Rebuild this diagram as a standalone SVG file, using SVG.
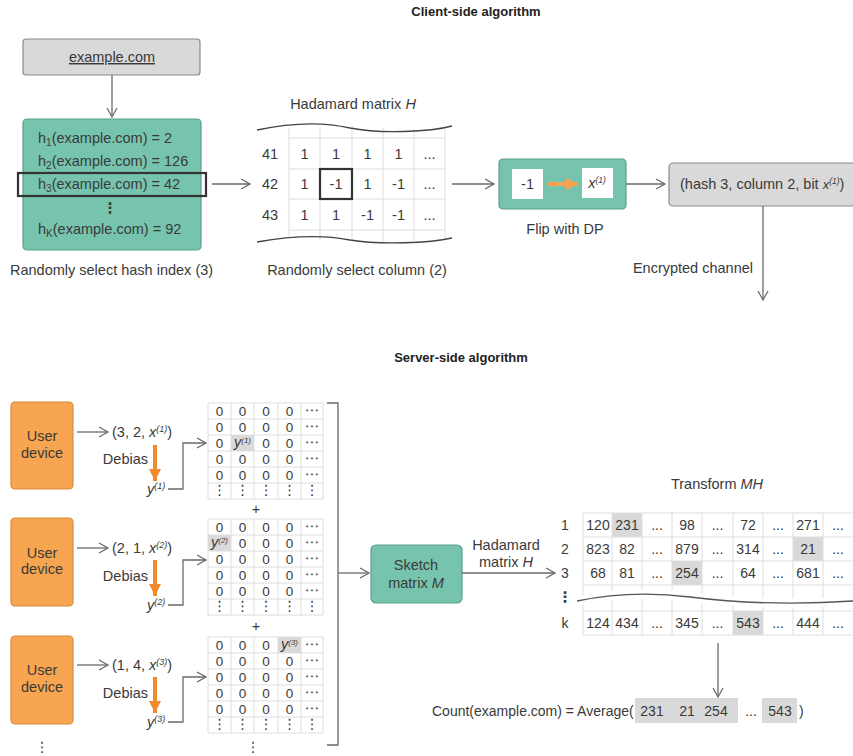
<svg xmlns="http://www.w3.org/2000/svg" width="853" height="756" viewBox="0 0 853 756">
<style>
text{font-family:"Liberation Sans",Arial,sans-serif;fill:#3a3a3a;font-size:14.5px}
.b{font-weight:bold;font-size:13px;fill:#222}
.c{text-anchor:middle}
.e{text-anchor:end}
.i{font-style:italic}
.m{font-size:14px}
.s{font-size:13.5px}
.f{font-size:14px}
.grid{stroke:#dedede;stroke-width:1;fill:none}
.con{stroke:#6a6a6a;stroke-width:1.3;fill:none}
.green{fill:#76c4ad;stroke:#5b9f8b;stroke-width:1.2}
.gray{fill:#d9d9d9;stroke:#8a8a8a;stroke-width:1.2}
.orange{fill:#f7a550;stroke:#d88b3c;stroke-width:1.2}
.hl{fill:#d9d9d9}
.sel{fill:none;stroke:#333;stroke-width:2.2}
.dots{font-family:"DejaVu Sans",sans-serif}
</style>
<defs>
<marker id="ah" markerWidth="12" markerHeight="12" refX="10" refY="6" orient="auto" markerUnits="userSpaceOnUse">
<path d="M1,1 L10,6 L1,11" fill="none" stroke="#6a6a6a" stroke-width="1.3"/>
</marker>
<marker id="oh" markerWidth="14" markerHeight="14" refX="12" refY="7" orient="auto" markerUnits="userSpaceOnUse">
<path d="M0,1 L12,7 L0,13 Z" fill="#f08a2c"/>
</marker>
<marker id="oh2" markerWidth="14" markerHeight="14" refX="12" refY="7" orient="auto" markerUnits="userSpaceOnUse">
<path d="M0,1 L12,7 L0,13 Z" fill="#f7a24c"/>
</marker>
</defs>

<text class="b c" x="476" y="16">Client-side algorithm</text>
<text class="b c" x="461" y="362">Server-side algorithm</text>

<g id="domain">
<rect class="gray" x="23" y="39" width="177" height="36" rx="3"/>
<text class="c" x="112" y="62" text-decoration="underline">example.com</text>
</g>

<g id="hashes">
<rect class="green" x="23" y="119" width="178" height="131" rx="4"/>
<text x="38" y="143">h<tspan font-size="10" dy="3">1</tspan><tspan dy="-3">(example.com) = 2</tspan></text>
<text x="38" y="166">h<tspan font-size="10" dy="3">2</tspan><tspan dy="-3">(example.com) = 126</tspan></text>
<text x="38" y="189">h<tspan font-size="10" dy="3">3</tspan><tspan dy="-3">(example.com) = 42</tspan></text>
<text class="c dots" x="110" y="213" font-weight="bold" font-size="14">⋮</text>
<text x="38" y="234">h<tspan font-size="10" dy="3">K</tspan><tspan dy="-3">(example.com) = 92</tspan></text>
<rect class="sel" x="18" y="173" width="188" height="23"/>
<text x="10" y="275">Randomly select hash index (3)</text>
</g>

<g id="hadamard">
<text class="c" x="353" y="109">Hadamard matrix <tspan class="i">H</tspan></text>
<path class="grid" d="M289,128 V238 M320,126 V240 M352,126 V241 M383,128 V242 M414,129 V241 M445,128 V240 M289,138 H445 M289,169 H445 M289,199 H445 M289,230 H445"/>
<path d="M257,130 C285,124 320,121 350,128 C380,134 430,132 452,126" fill="none" stroke="#444" stroke-width="1.3"/>
<path d="M257,242 C285,237 320,234 350,240 C380,245 430,243 452,238" fill="none" stroke="#444" stroke-width="1.3"/>
<text class="c" x="270" y="159">41</text>
<text class="c" x="270" y="189">42</text>
<text class="c" x="270" y="220">43</text>
<text class="c" x="304.5" y="159">1</text><text class="c" x="336" y="159">1</text><text class="c" x="367.5" y="159">1</text><text class="c" x="398.5" y="159">1</text><text class="c" x="429.5" y="159">...</text>
<text class="c" x="304.5" y="189">1</text><text class="c" x="336" y="189">-1</text><text class="c" x="367.5" y="189">1</text><text class="c" x="398.5" y="189">-1</text><text class="c" x="429.5" y="189">...</text>
<text class="c" x="304.5" y="220">1</text><text class="c" x="336" y="220">1</text><text class="c" x="367.5" y="220">-1</text><text class="c" x="398.5" y="220">-1</text><text class="c" x="429.5" y="220">...</text>
<rect class="sel" x="320" y="169" width="32" height="30"/>
<text class="c" x="357" y="275">Randomly select column (2)</text>
</g>

<g id="flip">
<rect class="green" x="499" y="159" width="127" height="50" rx="4"/>
<rect x="512" y="169" width="31" height="30" fill="#fff"/>
<rect x="582" y="168" width="31" height="30" fill="#fff"/>
<text class="c" x="527.5" y="189">-1</text>
<text class="c i" x="597" y="188" font-size="13">x<tspan font-size="8.5" dy="-5">(1)</tspan></text>
<line x1="548" y1="184" x2="578" y2="184" stroke="#f7a24c" stroke-width="4" marker-end="url(#oh2)"/>
<text class="c" x="565" y="234">Flip with DP</text>
</g>

<g id="report">
<rect class="gray" x="669" y="163" width="200" height="43" rx="4"/>
<text x="680" y="189">(hash 3, column 2, bit <tspan class="i" font-size="13">x</tspan><tspan class="i" font-size="8.5" dy="-5">(1)</tspan><tspan dy="5">)</tspan></text>
<text class="e" x="753" y="273">Encrypted channel</text>
</g>

<g id="device1">
<rect class="orange" x="11" y="402" width="62" height="87" rx="4"/>
<text class="c" x="42" y="441">User</text>
<text class="c" x="42" y="458">device</text>
<text x="112" y="437">(3, 2, <tspan class="i">x</tspan><tspan class="i" font-size="9" dy="-5">(1)</tspan><tspan dy="5">)</tspan></text>
<text class="e" x="148" y="464">Debias</text>
<text x="147" y="494" class="i">y<tspan font-size="9" dy="-5">(1)</tspan></text>
</g>
<g id="device2">
<rect class="orange" x="11" y="518" width="62" height="88" rx="4"/>
<text class="c" x="42" y="558">User</text>
<text class="c" x="42" y="574">device</text>
<text x="112" y="553">(2, 1, <tspan class="i">x</tspan><tspan class="i" font-size="9" dy="-5">(2)</tspan><tspan dy="5">)</tspan></text>
<text class="e" x="148" y="581">Debias</text>
<text x="147" y="610" class="i">y<tspan font-size="9" dy="-5">(2)</tspan></text>
</g>
<g id="device3">
<rect class="orange" x="11" y="636" width="62" height="88" rx="4"/>
<text class="c" x="42" y="675">User</text>
<text class="c" x="42" y="692">device</text>
<text x="112" y="670">(1, 4, <tspan class="i">x</tspan><tspan class="i" font-size="9" dy="-5">(3)</tspan><tspan dy="5">)</tspan></text>
<text class="e" x="148" y="698">Debias</text>
<text x="147" y="727" class="i">y<tspan font-size="9" dy="-5">(3)</tspan></text>
<text class="c dots" x="42" y="752" font-size="13">⋮</text>
</g>

<g id="matrix1">
<rect class="hl" x="231" y="435" width="23" height="16"/>
<path class="grid" d="M208,403 H323 V499 H208 Z M231,403 V499 M254,403 V499 M278,403 V499 M301,403 V499 M208,419 H323 M208,435 H323 M208,451 H323 M208,467 H323 M208,483 H323"/>
<text class="c s" x="219.5" y="416">0</text><text class="c s" x="242.5" y="416">0</text><text class="c s" x="266" y="416">0</text><text class="c s" x="289.5" y="416">0</text><text class="c dots" x="312" y="415" font-size="10">⋯</text>
<text class="c s" x="219.5" y="432">0</text><text class="c s" x="242.5" y="432">0</text><text class="c s" x="266" y="432">0</text><text class="c s" x="289.5" y="432">0</text><text class="c dots" x="312" y="431" font-size="10">⋯</text>
<text class="c s" x="219.5" y="448">0</text><text class="c i" x="242.5" y="447" font-size="12.5">y<tspan font-size="8" dy="-4">(1)</tspan></text><text class="c s" x="266" y="448">0</text><text class="c s" x="289.5" y="448">0</text><text class="c dots" x="312" y="447" font-size="10">⋯</text>
<text class="c s" x="219.5" y="464">0</text><text class="c s" x="242.5" y="464">0</text><text class="c s" x="266" y="464">0</text><text class="c s" x="289.5" y="464">0</text><text class="c dots" x="312" y="463" font-size="10">⋯</text>
<text class="c s" x="219.5" y="480">0</text><text class="c s" x="242.5" y="480">0</text><text class="c s" x="266" y="480">0</text><text class="c s" x="289.5" y="480">0</text><text class="c dots" x="312" y="479" font-size="10">⋯</text>
<text class="c dots" x="219.5" y="495" font-size="10">⋮</text><text class="c dots" x="242.5" y="495" font-size="10">⋮</text><text class="c dots" x="266" y="495" font-size="10">⋮</text><text class="c dots" x="289.5" y="495" font-size="10">⋮</text><text class="c dots" x="312" y="495" font-size="10">⋮</text>
<text class="c" x="256" y="514">+</text>
</g>

<g id="matrix2">
<rect class="hl" x="208" y="535" width="23" height="16"/>
<path class="grid" d="M208,519 H323 V615 H208 Z M231,519 V615 M254,519 V615 M278,519 V615 M301,519 V615 M208,535 H323 M208,551 H323 M208,567 H323 M208,583 H323 M208,599 H323"/>
<text class="c s" x="219.5" y="532">0</text><text class="c s" x="242.5" y="532">0</text><text class="c s" x="266" y="532">0</text><text class="c s" x="289.5" y="532">0</text><text class="c dots" x="312" y="531" font-size="10">⋯</text>
<text class="c i" x="219.5" y="547" font-size="12.5">y<tspan font-size="8" dy="-4">(2)</tspan></text><text class="c s" x="242.5" y="548">0</text><text class="c s" x="266" y="548">0</text><text class="c s" x="289.5" y="548">0</text><text class="c dots" x="312" y="547" font-size="10">⋯</text>
<text class="c s" x="219.5" y="564">0</text><text class="c s" x="242.5" y="564">0</text><text class="c s" x="266" y="564">0</text><text class="c s" x="289.5" y="564">0</text><text class="c dots" x="312" y="563" font-size="10">⋯</text>
<text class="c s" x="219.5" y="580">0</text><text class="c s" x="242.5" y="580">0</text><text class="c s" x="266" y="580">0</text><text class="c s" x="289.5" y="580">0</text><text class="c dots" x="312" y="579" font-size="10">⋯</text>
<text class="c s" x="219.5" y="596">0</text><text class="c s" x="242.5" y="596">0</text><text class="c s" x="266" y="596">0</text><text class="c s" x="289.5" y="596">0</text><text class="c dots" x="312" y="595" font-size="10">⋯</text>
<text class="c dots" x="219.5" y="611" font-size="10">⋮</text><text class="c dots" x="242.5" y="611" font-size="10">⋮</text><text class="c dots" x="266" y="611" font-size="10">⋮</text><text class="c dots" x="289.5" y="611" font-size="10">⋮</text><text class="c dots" x="312" y="611" font-size="10">⋮</text>
<text class="c" x="256" y="631">+</text>
</g>

<g id="matrix3">
<rect class="hl" x="278" y="637" width="23" height="16"/>
<path class="grid" d="M208,637 H323 V733 H208 Z M231,637 V733 M254,637 V733 M278,637 V733 M301,637 V733 M208,653 H323 M208,669 H323 M208,685 H323 M208,701 H323 M208,717 H323"/>
<text class="c s" x="219.5" y="650">0</text><text class="c s" x="242.5" y="650">0</text><text class="c s" x="266" y="650">0</text><text class="c i" x="289.5" y="649" font-size="12.5">y<tspan font-size="8" dy="-4">(3)</tspan></text><text class="c dots" x="312" y="649" font-size="10">⋯</text>
<text class="c s" x="219.5" y="666">0</text><text class="c s" x="242.5" y="666">0</text><text class="c s" x="266" y="666">0</text><text class="c s" x="289.5" y="666">0</text><text class="c dots" x="312" y="665" font-size="10">⋯</text>
<text class="c s" x="219.5" y="682">0</text><text class="c s" x="242.5" y="682">0</text><text class="c s" x="266" y="682">0</text><text class="c s" x="289.5" y="682">0</text><text class="c dots" x="312" y="681" font-size="10">⋯</text>
<text class="c s" x="219.5" y="698">0</text><text class="c s" x="242.5" y="698">0</text><text class="c s" x="266" y="698">0</text><text class="c s" x="289.5" y="698">0</text><text class="c dots" x="312" y="697" font-size="10">⋯</text>
<text class="c s" x="219.5" y="714">0</text><text class="c s" x="242.5" y="714">0</text><text class="c s" x="266" y="714">0</text><text class="c s" x="289.5" y="714">0</text><text class="c dots" x="312" y="713" font-size="10">⋯</text>
<text class="c dots" x="219.5" y="729" font-size="10">⋮</text><text class="c dots" x="242.5" y="729" font-size="10">⋮</text><text class="c dots" x="266" y="729" font-size="10">⋮</text><text class="c dots" x="289.5" y="729" font-size="10">⋮</text><text class="c dots" x="312" y="729" font-size="10">⋮</text>
<text class="c dots" x="253" y="752" font-size="13">⋮</text>
</g>

<g id="sketch">
<rect class="green" x="371" y="545" width="91" height="58" rx="5"/>
<text class="c" x="416" y="570">Sketch</text>
<text class="c" x="416" y="588">matrix <tspan class="i">M</tspan></text>
</g>

<g id="transform">
<text class="c" x="717" y="489">Transform <tspan class="i">MH</tspan></text>
<rect class="hl" x="612" y="513" width="30" height="24"/>
<rect class="hl" x="793" y="537" width="30" height="24"/>
<rect class="hl" x="672" y="561" width="30" height="24"/>
<rect class="hl" x="733" y="611" width="30" height="24"/>
<path class="grid" d="M583,513 V635 M612,513 V635 M642,513 V635 M672,513 V635 M702,513 V635 M733,513 V635 M763,513 V635 M793,513 V635 M823,513 V635 M583,513 H853 M583,537 H853 M583,561 H853 M583,585 H853 M583,611 H853 M583,635 H853"/>
<path d="M577,601 C610,594 650,592 690,597 C730,602 780,606 853,601" fill="none" stroke="#fff" stroke-width="9"/>
<path d="M577,601 C610,594 650,592 690,597 C730,602 780,606 853,601" fill="none" stroke="#555" stroke-width="1.3"/>
<text class="c m" x="565" y="530">1</text><text class="c m" x="565" y="554">2</text><text class="c m" x="565" y="578">3</text><text class="c dots" x="565" y="602" font-size="13" font-weight="bold">⋮</text><text class="c m" x="565" y="628">k</text>
<text class="c m" x="598" y="530">120</text><text class="c m" x="627" y="530">231</text><text class="c m" x="657" y="530">...</text><text class="c m" x="687" y="530">98</text><text class="c m" x="717.5" y="530">...</text><text class="c m" x="748" y="530">72</text><text class="c m" x="778" y="530">...</text><text class="c m" x="808" y="530">271</text><text class="c m" x="838" y="530">...</text>
<text class="c m" x="598" y="554">823</text><text class="c m" x="627" y="554">82</text><text class="c m" x="657" y="554">...</text><text class="c m" x="687" y="554">879</text><text class="c m" x="717.5" y="554">...</text><text class="c m" x="748" y="554">314</text><text class="c m" x="778" y="554">...</text><text class="c m" x="808" y="554">21</text><text class="c m" x="838" y="554">...</text>
<text class="c m" x="598" y="578">68</text><text class="c m" x="627" y="578">81</text><text class="c m" x="657" y="578">...</text><text class="c m" x="687" y="578">254</text><text class="c m" x="717.5" y="578">...</text><text class="c m" x="748" y="578">64</text><text class="c m" x="778" y="578">...</text><text class="c m" x="808" y="578">681</text><text class="c m" x="838" y="578">...</text>
<text class="c m" x="598" y="628">124</text><text class="c m" x="627" y="628">434</text><text class="c m" x="657" y="628">...</text><text class="c m" x="687" y="628">345</text><text class="c m" x="717.5" y="628">...</text><text class="c m" x="748" y="628">543</text><text class="c m" x="778" y="628">...</text><text class="c m" x="808" y="628">444</text><text class="c m" x="838" y="628">...</text>
</g>

<g id="count">
<rect class="hl" x="635" y="698" width="103" height="25"/>
<rect class="hl" x="762" y="698" width="35" height="25"/>
<text class="f" x="432" y="716">Count(example.com) = Average(</text>
<text class="c f" x="652" y="716">231</text>
<text class="c f" x="687" y="716">21</text>
<text class="c f" x="716" y="716">254</text>
<text class="c f" x="751" y="716">...</text>
<text class="c f" x="780" y="716">543</text>
<text class="f" x="799" y="716">)</text>
</g>

<g id="connectors">
<line class="con" x1="112" y1="75" x2="112" y2="117" marker-end="url(#ah)"/>
<line class="con" x1="212" y1="184" x2="250" y2="184" marker-end="url(#ah)"/>
<line class="con" x1="452" y1="184" x2="494" y2="184" marker-end="url(#ah)"/>
<line class="con" x1="626" y1="184" x2="665" y2="184" marker-end="url(#ah)"/>
<line class="con" x1="763" y1="206" x2="763" y2="300" marker-end="url(#ah)"/>
<line class="con" x1="77" y1="432" x2="108" y2="432" marker-end="url(#ah)"/>
<line class="con" x1="77" y1="548" x2="108" y2="548" marker-end="url(#ah)"/>
<line class="con" x1="77" y1="665" x2="108" y2="665" marker-end="url(#ah)"/>
<polyline class="con" points="168,489 183,489 183,443 206,443" marker-end="url(#ah)"/>
<polyline class="con" points="168,605 183,605 183,560 206,560" marker-end="url(#ah)"/>
<polyline class="con" points="168,722 183,722 183,677 206,677" marker-end="url(#ah)"/>
<line x1="155" y1="445" x2="155" y2="481" stroke="#f08a2c" stroke-width="4" marker-end="url(#oh)"/>
<line x1="155" y1="560" x2="155" y2="596" stroke="#f08a2c" stroke-width="4" marker-end="url(#oh)"/>
<line x1="155" y1="677" x2="155" y2="713" stroke="#f08a2c" stroke-width="4" marker-end="url(#oh)"/>
<polyline class="con" points="327,403 338,403 338,745 327,745"/>
<line class="con" x1="338" y1="573" x2="369" y2="573" marker-end="url(#ah)"/>
<line class="con" x1="462" y1="573" x2="555" y2="573" marker-end="url(#ah)"/>
<text class="c" x="506" y="550">Hadamard</text>
<text class="c" x="506" y="567">matrix <tspan class="i">H</tspan></text>
<line class="con" x1="718" y1="643" x2="718" y2="697" marker-end="url(#ah)"/>
</g>
</svg>
